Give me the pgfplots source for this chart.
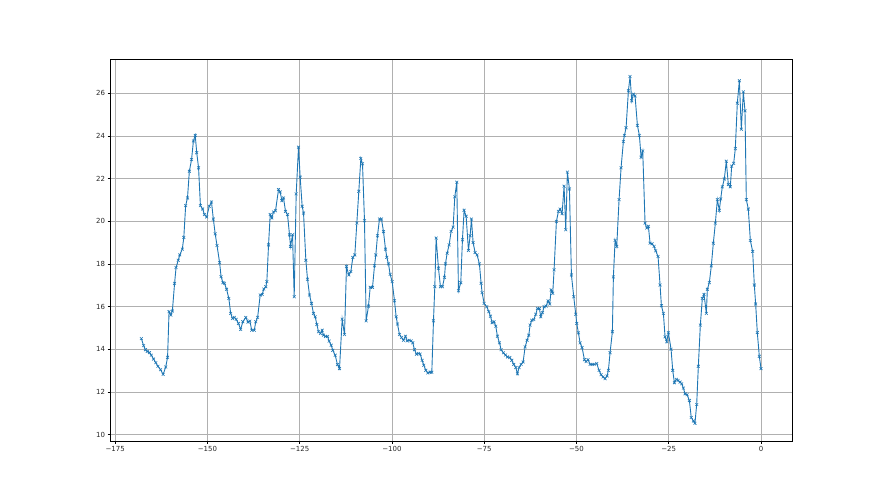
\documentclass[border=0pt]{standalone}
\usepackage{fontspec}
\setmainfont{DejaVu Sans}
\usepackage{pgfplots}
\pgfplotsset{compat=1.18}
\definecolor{mplblue}{HTML}{1F77B4}
\definecolor{gridgray}{HTML}{B0B0B0}
\begin{document}
\begin{tikzpicture}
\path[use as bounding box] (0,0) rectangle (880bp,495bp);
\begin{axis}[at={(110bp,54bp)}, anchor=south west, scale only axis,
  width=682bp, height=382bp,
  xmin=-176.4, xmax=8.4, ymin=9.7, ymax=27.6,
  xtick={-175,-150,-125,-100,-75,-50,-25,0},
  xticklabels={−175,−150,−125,−100,−75,−50,−25,0},
  ytick={10,12,14,16,18,20,22,24,26},
  /pgf/number format/assume math mode=true,
  grid=major, grid style={color=gridgray, line width=0.55bp},
  tick align=outside, tick pos=left, major tick length=2.5bp,
  tick style={black, line width=0.55bp},
  axis line style={black, line width=0.55bp},
  tick label style={font=\fontsize{7}{8}\selectfont, text=black!85},
  xticklabel style={yshift=1bp},
  yticklabel style={xshift=1bp},
]
\addplot[color=mplblue, line width=0.9bp, mark=x, mark size=2bp, mark options={line width=0.6bp}] table {
x y
-167.9 14.50
-167.3 14.17
-166.8 13.98
-166.3 13.90
-165.7 13.84
-165.2 13.72
-164.6 13.54
-164.0 13.37
-163.4 13.20
-162.7 13.04
-162.0 12.82
-161.3 13.17
-160.8 13.62
-160.4 15.76
-159.9 15.60
-159.5 15.79
-158.9 17.09
-158.5 17.83
-157.9 18.17
-157.5 18.42
-156.8 18.69
-156.4 19.24
-155.9 20.73
-155.4 21.09
-154.9 22.34
-154.3 22.89
-153.8 23.76
-153.3 24.02
-152.9 23.21
-152.4 22.50
-151.9 20.73
-151.3 20.57
-150.8 20.31
-150.2 20.20
-149.5 20.70
-148.9 20.90
-148.4 20.10
-147.9 19.41
-147.4 18.86
-146.7 18.06
-146.3 17.40
-145.8 17.12
-145.4 17.09
-144.8 16.81
-144.2 16.38
-143.7 15.68
-143.2 15.44
-142.7 15.49
-142.2 15.40
-141.6 15.21
-141.0 14.93
-140.4 15.29
-139.6 15.49
-139.0 15.27
-138.5 15.32
-138.0 14.89
-137.3 14.89
-136.9 15.29
-136.4 15.49
-135.70 16.54
-135.16 16.57
-134.71 16.82
-134.17 16.93
-133.90 17.17
-133.44 18.89
-132.99 20.31
-132.54 20.15
-132.09 20.43
-131.55 20.49
-130.74 21.48
-130.28 21.37
-129.83 20.96
-129.38 21.09
-128.84 20.46
-128.30 20.31
-127.76 19.36
-127.48 18.82
-126.94 19.36
-126.49 16.46
-125.95 21.28
-125.32 23.47
-124.87 22.06
-124.33 20.70
-123.96 20.38
-123.33 18.17
-122.88 17.28
-122.34 16.54
-121.80 16.15
-121.26 15.68
-120.80 15.52
-120.35 15.16
-119.90 14.82
-119.36 14.74
-118.91 14.89
-118.55 14.66
-118.01 14.60
-117.46 14.60
-117.01 14.38
-116.47 14.19
-116.02 13.95
-115.39 13.72
-114.76 13.28
-114.21 13.09
-113.49 15.41
-112.86 14.69
-112.32 17.87
-111.69 17.48
-111.14 17.64
-110.60 18.30
-110.06 18.42
-109.52 19.91
-108.98 21.40
-108.43 22.94
-107.98 22.69
-107.44 20.02
-106.99 15.33
-106.36 16.02
-105.90 16.90
-105.27 16.90
-104.73 17.91
-104.37 18.42
-103.92 19.32
-103.38 20.10
-102.84 20.10
-102.29 19.51
-101.75 18.69
-101.39 18.31
-100.94 18.00
-100.49 17.51
-99.95 17.17
-99.31 16.27
-98.86 15.52
-98.50 15.18
-97.96 14.69
-97.42 14.55
-96.88 14.42
-96.33 14.61
-95.88 14.39
-95.34 14.42
-94.80 14.39
-94.35 14.30
-93.90 13.98
-93.36 13.77
-92.81 13.80
-92.36 13.77
-91.82 13.48
-91.37 13.25
-90.83 13.01
-90.29 12.89
-89.65 12.93
-89.20 12.92
-88.75 15.33
-88.39 16.93
-88.03 19.21
-87.40 17.80
-86.86 16.93
-86.31 16.93
-85.77 17.37
-85.50 18.00
-85.05 18.50
-84.51 18.89
-83.97 19.52
-83.43 19.72
-82.97 21.14
-82.43 21.83
-81.98 16.74
-81.35 17.12
-80.90 19.13
-80.45 20.51
-79.90 20.23
-79.27 18.63
-78.82 19.32
-78.46 20.10
-78.01 19.00
-77.47 18.53
-76.93 18.42
-76.30 18.00
-75.84 17.09
-75.57 16.65
-75.03 16.15
-74.30 15.99
-73.76 15.76
-73.31 15.55
-72.86 15.24
-72.32 15.29
-71.87 15.08
-71.42 14.61
-70.87 14.30
-70.42 13.98
-69.79 13.83
-69.25 13.73
-68.71 13.64
-68.07 13.61
-67.53 13.48
-66.99 13.29
-66.45 13.14
-66.00 12.85
-65.55 13.14
-65.01 13.29
-64.46 13.40
-63.92 14.11
-63.38 14.42
-62.93 14.66
-62.57 15.13
-62.12 15.36
-61.57 15.39
-61.03 15.64
-60.58 15.91
-60.04 15.91
-59.68 15.52
-59.23 15.71
-58.77 15.99
-58.23 16.02
-57.69 16.27
-57.24 16.12
-56.88 16.78
-56.43 16.62
-56.07 17.72
-55.44 19.99
-54.89 20.46
-54.44 20.57
-53.90 20.35
-53.36 21.64
-52.91 19.60
-52.46 22.30
-51.91 21.51
-51.37 17.48
-50.74 16.46
-50.20 15.64
-49.93 15.21
-49.48 14.77
-49.02 14.30
-48.48 14.08
-47.85 13.51
-47.40 13.42
-46.86 13.51
-46.31 13.29
-45.77 13.29
-45.23 13.29
-44.51 13.33
-43.88 13.01
-43.33 12.81
-42.79 12.70
-42.25 12.62
-41.71 12.75
-41.35 13.01
-40.90 13.84
-40.27 14.82
-40.00 17.39
-39.54 19.10
-39.09 18.82
-38.46 21.01
-37.92 22.50
-37.29 23.73
-37.01 24.02
-36.56 24.38
-35.93 26.11
-35.48 26.78
-35.03 25.64
-34.58 25.95
-34.13 25.87
-33.49 24.49
-32.95 24.02
-32.50 23.00
-32.05 23.29
-31.42 19.91
-30.97 19.68
-30.51 19.76
-30.06 18.97
-29.52 18.94
-28.98 18.82
-28.53 18.61
-27.90 18.35
-27.35 17.01
-26.99 16.04
-26.45 15.68
-26.00 14.58
-25.55 14.35
-25.10 14.77
-24.37 14.00
-23.92 13.01
-23.47 12.43
-22.93 12.59
-22.48 12.54
-21.94 12.46
-21.49 12.38
-21.03 12.18
-20.58 11.91
-20.04 11.87
-19.41 11.60
-18.90 10.80
-18.30 10.64
-17.90 10.53
-17.43 11.41
-16.98 13.20
-16.44 15.13
-15.90 16.38
-15.44 16.57
-14.81 15.68
-14.54 16.81
-14.00 17.12
-13.46 17.91
-12.92 18.97
-12.37 19.91
-11.83 21.01
-11.29 20.51
-10.93 21.04
-10.48 21.61
-9.94 21.98
-9.40 22.81
-8.85 21.72
-8.31 21.61
-7.95 22.58
-7.41 22.71
-6.96 23.40
-6.42 25.53
-5.87 26.58
-5.33 24.31
-4.79 26.06
-4.34 25.17
-3.98 21.01
-3.44 20.57
-2.89 19.10
-2.26 18.58
-1.81 17.01
-1.45 16.12
-1.00 14.78
-0.46 13.67
0.00 13.09
};
\end{axis}
\end{tikzpicture}
\end{document}
